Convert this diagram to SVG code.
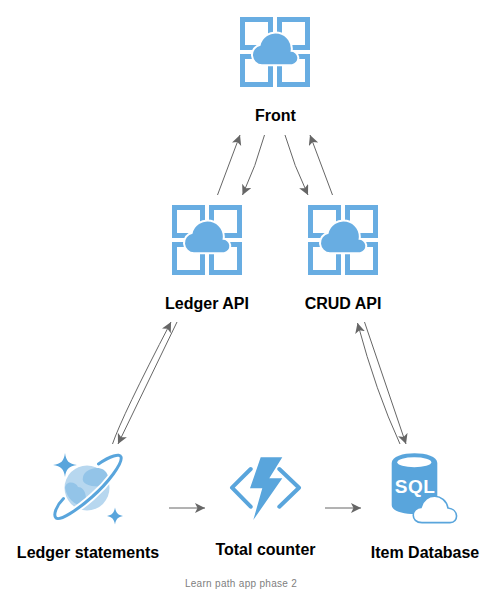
<svg xmlns="http://www.w3.org/2000/svg" xmlns:xlink="http://www.w3.org/1999/xlink" width="494" height="594" viewBox="0 0 494 594">
<style>
.lbl{font-family:"Liberation Sans",Arial,sans-serif;font-size:16px;font-weight:bold;fill:#000;text-anchor:middle}
.cap{font-family:"Liberation Sans",Arial,sans-serif;font-size:10px;letter-spacing:.3px;fill:#808080;text-anchor:middle}
.c{fill:none;stroke:#666;stroke-width:1;marker-end:url(#ah)}
.fr{fill:none;stroke:#68ade2;stroke-width:5}
</style>
<defs>
<marker id="ah" markerUnits="userSpaceOnUse" markerWidth="12" markerHeight="12" refX="10" refY="5" orient="auto"><path d="M0 0L10 5L0 10L2.500 5Z" fill="#666"/></marker>
<g id="app">
<rect class="fr" x="242.500" y="19.500" width="28" height="28"/>
<rect class="fr" x="279.500" y="19.500" width="28" height="28"/>
<rect class="fr" x="242.500" y="56.500" width="28" height="28"/>
<rect class="fr" x="279.500" y="56.500" width="28" height="28"/>
<path d="M262 64.300A9.400 9.400 0 0 1 260.500 45.700A15 15 0 0 1 290.500 51.800A6.300 6.300 0 0 1 292 64.300Z" fill="#68ade2" stroke="#fff" stroke-width="4" paint-order="stroke"/>
</g>
</defs>
<g id="connectors">
<path class="c" d="M217.500 195L240 135"/>
<path class="c" d="M264.500 135Q256 166 242.500 195"/>
<path class="c" d="M285 135Q294 166 308 195"/>
<path class="c" d="M332.500 195L310 135"/>
<path class="c" d="M112.500 444Q122 416 171 322"/>
<path class="c" d="M177 322L118 444"/>
<path class="c" d="M400 444Q376 392 357.500 323"/>
<path class="c" d="M364.500 322L406 444"/>
<path class="c" d="M169 508H205"/>
<path class="c" d="M325 508H361"/>
</g>
<g id="front"><use xlink:href="#app" href="#app"/><text class="lbl" x="275.500" y="120.500">Front</text></g>
<g id="ledger-api"><use xlink:href="#app" href="#app" x="-68" y="188"/><text class="lbl" x="207" y="308.500">Ledger API</text></g>
<g id="crud-api"><use xlink:href="#app" href="#app" x="68" y="188"/><text class="lbl" x="343" y="308.500">CRUD API</text></g>
<g id="ledger-statements">
<circle cx="87" cy="488" r="22.500" fill="#b7d7ef"/>
<path d="M83 477C85 468 104 463 108 476C110 479 109 482 108 485C100 488 80 487 83 477Z" fill="#93c4e8"/>
<path d="M65 488C66 480 76 482 78 487C86 487 88 500 84 507C74 505 67 498 65 488Z" fill="#93c4e8"/>
<path d="M122 458C122 464 108 483 92 497C76 511 60 521 56 518" fill="none" stroke="#fff" stroke-width="7"/>
<path d="M98.500 464C110 456 120 453 121 457C123 463 108 483 92 497C76 511 60 521 56 518C53 515 56 506 63.500 498.500" fill="none" stroke="#59a5dc" stroke-width="3" stroke-linecap="round"/>
<path d="M65 453C66 461 69 464 77 465C69 466 66 469 65 477C64 469 61 466 53 465C61 464 64 461 65 453Z" fill="#59a5dc"/>
<path d="M115 507.500C116 513 118 515 123 516C118 517 116 519 115 524.500C114 519 112 517 107 516C112 515 114 513 115 507.500Z" fill="#59a5dc"/>
<text class="lbl" x="88" y="558">Ledger statements</text>
</g>
<g id="total-counter">
<path d="M250.700 469L232 487.700L250.700 506.700M279.300 469L299 487.700L279.300 506.700" fill="none" stroke="#59a5dc" stroke-width="4" stroke-linecap="round" stroke-linejoin="round"/>
<path d="M260.700 457.300H282.300L269.300 478.300H282.300L253.300 520L262.300 488.300H250Z" fill="#59a5dc"/>
<text class="lbl" x="265.500" y="555">Total counter</text>
</g>
<g id="item-database">
<path d="M391.700 463C391.700 450 437.300 450 437.300 463V505C437.300 517 391.700 517 391.700 505Z" fill="#59a5dc"/>
<ellipse cx="414.300" cy="462.300" rx="17" ry="5" fill="#fff"/>
<text x="415" y="493" font-family="'Liberation Sans',Arial,sans-serif" font-size="19" font-weight="bold" fill="#fff" text-anchor="middle" letter-spacing=".5">SQL</text>
<path d="M422 522.600C410 522.600 411 508 421 507.500C425 492 445 493 448 508C459 509 459 522.600 450 522.600Z" fill="#fff" stroke="#59a5dc" stroke-width="1.600"/>
<text class="lbl" x="425" y="558">Item Database</text>
</g>
<text class="cap" x="241" y="587">Learn path app phase 2</text>
</svg>
